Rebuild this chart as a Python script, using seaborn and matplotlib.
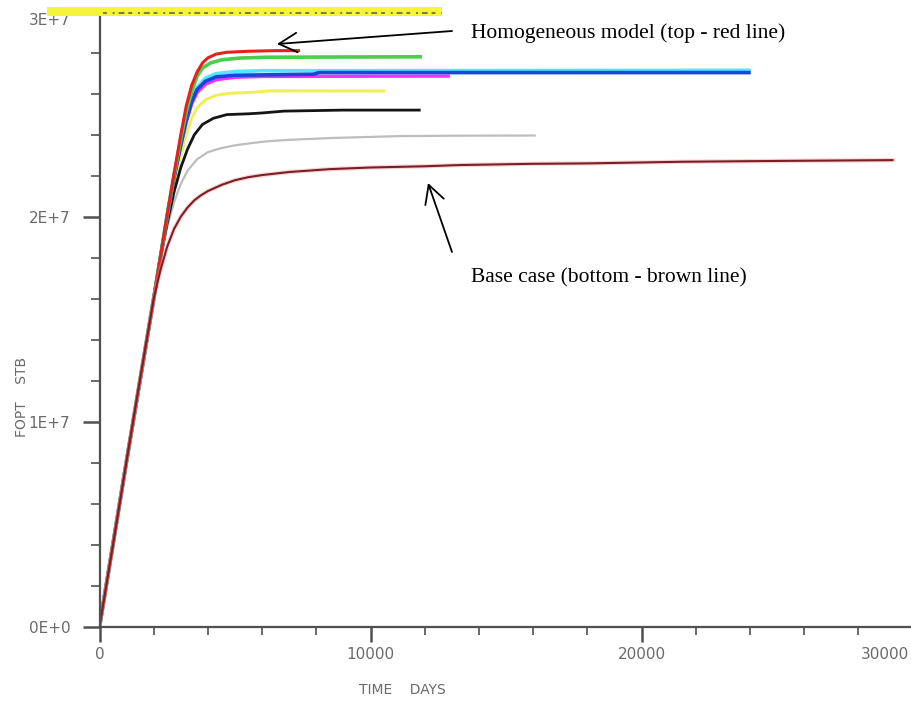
import matplotlib
matplotlib.use("Agg")
import matplotlib.pyplot as plt
import matplotlib.transforms as mtransforms
from matplotlib.patches import Rectangle
from matplotlib.lines import Line2D
from matplotlib.ticker import MultipleLocator, FixedLocator
import pandas as pd
import seaborn as sns

W, H = 911, 702

# Cumulative field oil production (FOPT, million STB) against time (days)
base_days = [0, 500, 1000, 1500, 2000, 2250, 2500, 2750, 3000, 3250, 3500, 3750, 4000,
             4500, 5000, 5500, 6000, 7000, 8500, 10000, 12000, 13300, 16000, 18000,
             21500, 25000, 29300]
base_fopt = [0, 4.0, 8.1, 12.1, 16.0, 17.4, 18.55, 19.4, 20.0, 20.45, 20.8, 21.05, 21.25,
             21.55, 21.78, 21.93, 22.03, 22.18, 22.32, 22.4, 22.46, 22.52, 22.58, 22.6,
             22.68, 22.72, 22.76]

grey_days = [0, 1000, 2000, 2250, 2500, 2750, 3000, 3250, 3600, 4000, 4500, 5000, 5550,
             6200, 7000, 8600, 11000, 13000, 16100]
grey_fopt = [0, 8.1, 16.0, 17.9, 19.5, 20.7, 21.6, 22.25, 22.8, 23.15, 23.35, 23.48, 23.58,
             23.68, 23.75, 23.84, 23.93, 23.95, 23.96]

black_days = [0, 1000, 2000, 2250, 2500, 2750, 3000, 3250, 3500, 3800, 4200, 4700, 5500,
              6000, 6800, 9000, 11850]
black_fopt = [0, 8.1, 16.0, 18.0, 19.7, 21.2, 22.4, 23.3, 24.0, 24.5, 24.8, 24.98, 25.02,
              25.06, 25.15, 25.2, 25.2]

yellow_days = [0, 1000, 2000, 2500, 2750, 3000, 3200, 3400, 3600, 3900, 4300, 4800, 5550,
               6300, 10550]
yellow_fopt = [0, 8.1, 16.0, 19.9, 21.6, 23.0, 24.0, 24.8, 25.3, 25.7, 25.92, 26.02, 26.06,
               26.14, 26.13]

magenta_days = [0, 1000, 2000, 2500, 2750, 3000, 3200, 3400, 3600, 3900, 4300, 5000, 6000,
                12930]
magenta_fopt = [0, 8.1, 16.0, 20.0, 21.9, 23.5, 24.6, 25.5, 26.05, 26.45, 26.68, 26.8,
                26.84, 26.86]

cyan_days = [0, 1000, 2000, 2500, 2750, 3000, 3200, 3400, 3600, 3900, 4300, 5000, 6000,
             24030]
cyan_fopt = [0, 8.1, 16.0, 20.1, 22.0, 23.6, 24.8, 25.7, 26.3, 26.75, 26.98, 27.08, 27.12,
             27.14]

blue_days = [0, 1000, 2000, 2500, 2750, 3000, 3200, 3400, 3600, 3900, 4300, 5000, 7900,
             8100, 24030]
blue_fopt = [0, 8.1, 16.0, 20.0, 21.9, 23.5, 24.7, 25.6, 26.2, 26.6, 26.82, 26.9, 26.95,
             27.03, 27.03]

green_days = [0, 1000, 2000, 2500, 2750, 3000, 3200, 3400, 3600, 3800, 4100, 4500, 5200,
              6200, 11900]
green_fopt = [0, 8.1, 16.0, 20.1, 22.0, 23.8, 25.1, 26.1, 26.85, 27.25, 27.5, 27.65, 27.74,
              27.78, 27.8]

red_days = [0, 1000, 2000, 2500, 2750, 3000, 3200, 3400, 3600, 3800, 4000, 4300, 4700,
            5500, 6500, 7400]
red_fopt = [0, 8.1, 16.0, 20.1, 22.1, 24.0, 25.4, 26.4, 27.05, 27.5, 27.75, 27.93, 28.02,
            28.07, 28.1, 28.1]

# name, days, fopt, colour, line width (drawing order: last on top)
series = [
    ("grey", grey_days, grey_fopt, "#bdbdbd", 1.6),
    ("yellow", yellow_days, yellow_fopt, "#f2ee5a", 2.2),
    ("black", black_days, black_fopt, "#151515", 2.0),
    ("magenta", magenta_days, magenta_fopt, "#ff2cff", 2.4),
    ("cyan", cyan_days, cyan_fopt, "#52e6ff", 2.6),
    ("blue", blue_days, blue_fopt, "#1846dc", 2.6),
    ("green", green_days, green_fopt, "#4ccd4c", 2.6),
    ("red", red_days, red_fopt, "#e3211f", 2.2),
    ("base", base_days, base_fopt, "#7a1f26", 1.5),
]

sns.set_theme(style="white")
plt.rcParams['font.family'] = ['DejaVu Sans']

fig = plt.figure(figsize=(W / 100, H / 100), dpi=100)
ax = fig.add_axes([99.5 / W, (H - 626.7) / H, 813 / W, 615 / H])

for name, d, f, col, lw in series:
    df = pd.DataFrame({"days": d, "fopt": [v * 1e6 for v in f]})
    if name == "base":
        # light halo under the base-case line
        sns.lineplot(data=df, x="days", y="fopt", ax=ax, color="#f29a9a",
                     lw=lw + 1.6, sort=False, estimator=None, alpha=0.45)
    sns.lineplot(data=df, x="days", y="fopt", ax=ax, color=col, lw=lw,
                 sort=False, estimator=None, solid_capstyle="butt",
                 solid_joinstyle="round")

ax.set_xlim(0, 30000)
ax.set_ylim(0, 3e7)
ax.set_xlabel("")
ax.set_ylabel("")

for s in ("top", "right"):
    ax.spines[s].set_visible(False)
for s in ("left", "bottom"):
    ax.spines[s].set_color("#505050")
    ax.spines[s].set_linewidth(1.6)

tick_col = "#6a6a6a"
ax.xaxis.set_major_locator(FixedLocator([0, 10000, 20000, 30000]))
ax.xaxis.set_minor_locator(MultipleLocator(2000))
ax.yaxis.set_major_locator(FixedLocator([0, 1e7, 2e7, 3e7]))
ax.yaxis.set_minor_locator(MultipleLocator(2e6))
ax.set_xticklabels(["0", "10000", "20000", "30000"])
ax.set_yticklabels(["0E+0", "1E+7", "2E+7", "3E+7"])

ax.tick_params(axis="x", which="major", direction="out", length=11, width=1.8,
               color="#505050", pad=3.5, labelsize=11, labelcolor=tick_col)
ax.tick_params(axis="x", which="minor", direction="out", length=5.5, width=1.2,
               color="#505050")
ax.tick_params(axis="y", which="major", direction="out", length=12.5, width=1.8,
               color="#505050", pad=8.5, labelsize=11, labelcolor=tick_col)
ax.tick_params(axis="y", which="minor", direction="out", length=6.5, width=1.2,
               color="#505050")
ax.tick_params(bottom=True, left=True, which="both")

# keep the outer tick labels inside the frame
last_x = ax.get_xticklabels()[-1]
last_x.set_horizontalalignment("right")
last_x.set_transform(last_x.get_transform() +
                     mtransforms.ScaledTranslation(-3 / 100, 0, fig.dpi_scale_trans))
top_y = ax.get_yticklabels()[-1]
top_y.set_transform(top_y.get_transform() +
                    mtransforms.ScaledTranslation(0, -7 / 100, fig.dpi_scale_trans))

# axis titles
fig.text(22 / W, 1 - 397 / H, "FOPT    STB", rotation=90, ha="center", va="center",
         fontsize=10, color=tick_col)
fig.text(402 / W, 1 - 690 / H, "TIME    DAYS", ha="center", va="center",
         fontsize=10, color=tick_col)

# highlighted strip along the top edge
fig.patches.append(Rectangle((47 / W, 1 - 16 / H), (442 - 47) / W, 9 / H,
                             transform=fig.transFigure, facecolor="#f6f43a",
                             edgecolor="none", zorder=0))
fig.lines.append(Line2D([103 / W, 442 / W], [1 - 13 / H, 1 - 13 / H],
                        transform=fig.transFigure, color="#4a4a3a", lw=1.4,
                        dashes=(2, 3, 1, 2, 3, 2), alpha=0.7))

# annotations
serif = ["Liberation Serif", "DejaVu Serif"]
fig.text(471 / W, 1 - 38 / H, "Homogeneous model (top - red line)", ha="left",
         va="baseline", fontsize=15.5, family=serif, color="black")
fig.text(471 / W, 1 - 282 / H, "Base case (bottom - brown line)", ha="left",
         va="baseline", fontsize=15.5, family=serif, color="black")

arrow = dict(arrowstyle="->,head_length=0.65,head_width=0.35", lw=1.3,
             color="black", mutation_scale=20, shrinkA=0, shrinkB=0)
ax.annotate("", xy=(277, H - 44), xycoords="figure pixels",
            xytext=(452, H - 31), textcoords="figure pixels", arrowprops=arrow)
ax.annotate("", xy=(428, H - 183), xycoords="figure pixels",
            xytext=(452, H - 252), textcoords="figure pixels", arrowprops=arrow)

fig.savefig("out.png", dpi=100)
